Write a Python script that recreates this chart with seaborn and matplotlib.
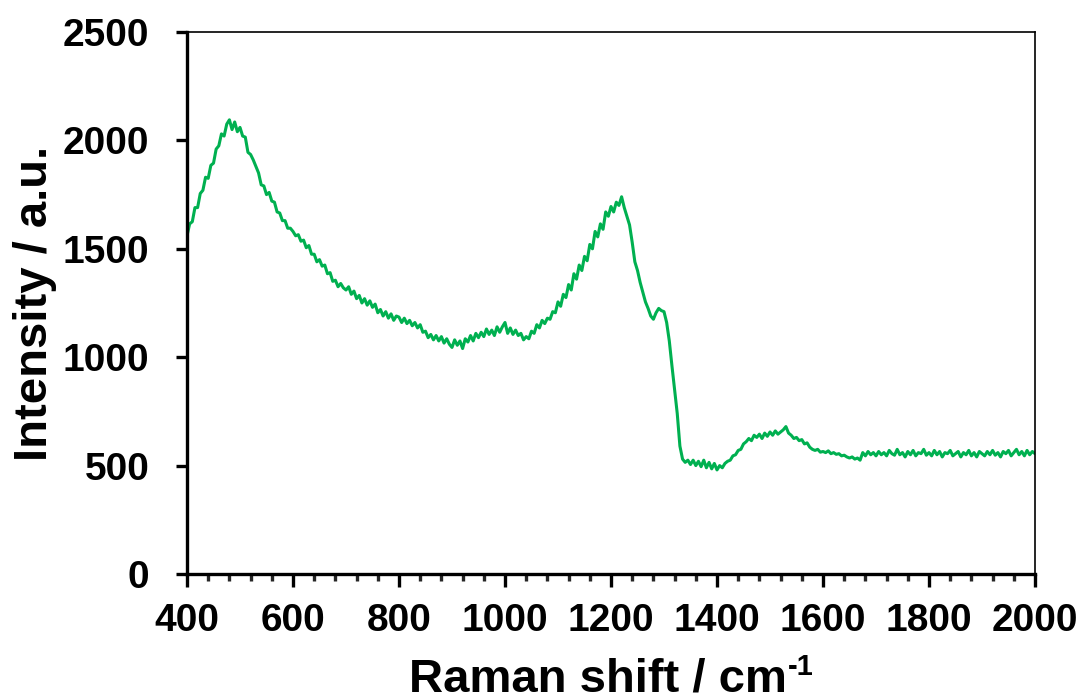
import numpy as np
import pandas as pd
import matplotlib
matplotlib.use("Agg")
import matplotlib.pyplot as plt
from matplotlib.ticker import MultipleLocator
import seaborn as sns

# Raman spectrum, sampled every 5 cm-1 from 400 to 2000 cm-1
shift_start, shift_stop, shift_step = 400, 2000, 5
intensity = [
    # 400-495
    1560, 1615, 1625, 1690, 1690, 1755, 1770, 1830, 1825, 1885, 1895, 1960, 1975, 2030, 2020, 2075, 2095, 2050, 2085, 2040,
    # 500-595
    2060, 2020, 2015, 1945, 1935, 1910, 1880, 1850, 1795, 1790, 1750, 1760, 1720, 1715, 1670, 1665, 1630, 1630, 1595, 1595,
    # 600-695
    1580, 1560, 1565, 1535, 1540, 1505, 1515, 1475, 1475, 1440, 1450, 1420, 1425, 1385, 1390, 1350, 1355, 1325, 1340, 1320,
    # 700-795
    1310, 1325, 1290, 1305, 1270, 1285, 1250, 1270, 1240, 1260, 1230, 1245, 1205, 1220, 1190, 1210, 1180, 1200, 1170, 1190,
    # 800-895
    1185, 1160, 1180, 1155, 1170, 1145, 1160, 1135, 1150, 1115, 1120, 1090, 1105, 1080, 1100, 1075, 1095, 1065, 1085, 1060,
    # 900-995
    1045, 1080, 1055, 1075, 1040, 1085, 1070, 1100, 1075, 1110, 1090, 1115, 1095, 1130, 1105, 1125, 1100, 1140, 1115, 1140,
    # 1000-1095
    1160, 1110, 1135, 1105, 1125, 1100, 1110, 1080, 1095, 1085, 1120, 1110, 1150, 1135, 1170, 1155, 1180, 1175, 1210, 1205,
    # 1100-1195
    1255, 1235, 1290, 1275, 1335, 1310, 1385, 1360, 1425, 1400, 1465, 1445, 1520, 1500, 1580, 1555, 1615, 1590, 1670, 1650,
    # 1200-1295
    1695, 1670, 1715, 1700, 1740, 1690, 1650, 1610, 1530, 1440, 1400, 1345, 1300, 1255, 1225, 1190, 1175, 1205, 1225, 1215,
    # 1300-1395
    1210, 1160, 1075, 960, 850, 740, 590, 530, 515, 525, 505, 525, 500, 520, 495, 525, 490, 515, 485, 510,
    # 1400-1495
    480, 500, 490, 510, 520, 525, 545, 550, 570, 575, 600, 610, 625, 615, 640, 630, 645, 625, 650, 635,
    # 1500-1595
    655, 640, 660, 645, 655, 665, 680, 650, 640, 625, 630, 615, 620, 600, 605, 585, 575, 570, 575, 562,
    # 1600-1695
    565, 560, 568, 555, 560, 552, 555, 545, 548, 540, 535, 540, 530, 535, 525, 560, 545, 565, 550, 560,
    # 1700-1795
    545, 565, 550, 560, 545, 570, 555, 548, 575, 550, 560, 540, 565, 550, 570, 545, 560, 555, 575, 548,
    # 1800-1895
    560, 545, 570, 550, 565, 540, 560, 555, 570, 545, 555, 565, 540, 560, 550, 570, 545, 560, 540, 565,
    # 1900-1995
    555, 545, 565, 550, 570, 548, 560, 540, 565, 555, 570, 545, 560, 575, 550, 565, 545, 570, 550, 565,
    # 2000
    555,
]
raman_shift = np.arange(shift_start, shift_stop + shift_step, shift_step)

x_ticks = [400, 600, 800, 1000, 1200, 1400, 1600, 1800, 2000]
y_ticks = [0, 500, 1000, 1500, 2000, 2500]

spectrum = pd.DataFrame({"shift": raman_shift, "intensity": intensity})

sns.set_style("ticks")
plt.rcParams["font.family"] = ["Liberation Sans", "DejaVu Sans"]
plt.rcParams["font.weight"] = "bold"
plt.rcParams["text.color"] = "black"
plt.rcParams["axes.labelcolor"] = "black"

fig = plt.figure(figsize=(10.84, 7.0), dpi=100)
ax = fig.add_axes([187 / 1084, 1 - 574 / 700, (1035 - 187) / 1084, (574 - 32) / 700])

sns.lineplot(data=spectrum, x="shift", y="intensity", ax=ax,
             color="#00B050", linewidth=2.2)

ax.set_xlim(400, 2000)
ax.set_ylim(0, 2500)
ax.set_xticks(x_ticks)
ax.set_yticks(y_ticks)
ax.xaxis.set_minor_locator(MultipleLocator(40))

for side in ["left", "bottom"]:
    ax.spines[side].set_linewidth(2.4)
    ax.spines[side].set_color("black")
for side in ["top", "right"]:
    ax.spines[side].set_visible(True)
    ax.spines[side].set_linewidth(1.2)
    ax.spines[side].set_color("black")

ax.tick_params(axis="both", which="major", direction="out", width=2.4,
               labelsize=28, colors="black")
ax.tick_params(axis="x", which="major", length=9, pad=12)
ax.tick_params(axis="x", which="minor", direction="out", length=5, width=2.4)
ax.tick_params(axis="y", which="major", length=8, pad=19)
ax.tick_params(axis="y", which="minor", length=0)
for lbl in ax.get_xticklabels() + ax.get_yticklabels():
    lbl.set_fontweight("bold")

ax.set_xlabel("")
ax.set_ylabel("Intensity / a.u.", fontsize=34, fontweight="bold",
              labelpad=4, color="black")

# x label: main text plus a small raised "-1" exponent right after it
xlab = fig.text(0, 0, "Raman shift / cm", fontsize=34, fontweight="bold",
                ha="left", va="baseline", color="black")
sup = fig.text(0, 0, "-1", fontsize=21, fontweight="bold",
               ha="left", va="baseline", color="black")
fig.canvas.draw()
renderer = fig.canvas.get_renderer()
w_main = xlab.get_window_extent(renderer).width
w_sup = sup.get_window_extent(renderer).width
ax_box = ax.get_window_extent(renderer)
center_x = (ax_box.x0 + ax_box.x1) / 2
baseline_y = 8  # pixels above the bottom edge
start_x = center_x - (w_main + w_sup) / 2
xlab.set_position((start_x / fig.bbox.width, baseline_y / fig.bbox.height))
sup.set_position(((start_x + w_main + 1) / fig.bbox.width,
                  (baseline_y + 17) / fig.bbox.height))

fig.savefig("out.png", dpi=100, facecolor="white")
